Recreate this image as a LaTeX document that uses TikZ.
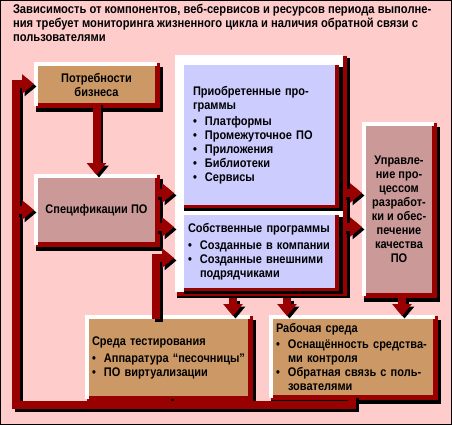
\documentclass[tikz,border=0pt]{standalone}
\usepackage{fontspec}
\setmainfont{Liberation Sans}[FakeStretch=0.88]
\usetikzlibrary{arrows.meta,backgrounds}
\definecolor{bgpink}{HTML}{FFCCCC}
\definecolor{dred}{HTML}{990000}
\definecolor{tanbox}{HTML}{CC9966}
\definecolor{rosebox}{HTML}{CC9999}
\definecolor{lavbox}{HTML}{CCCCFF}
\newcommand\bulit{\makebox[12pt][l]{\textbullet}}
\newcommand\lbltext{\bfseries\fontsize{12.5}{14}\selectfont}
\newcommand\boxdeco[1]{%
 \begin{scope}[on background layer]
  \fill[black] ([shift={(-2,1)}]#1.north west) rectangle ([shift={(8,9)}]#1.south east);
  \fill[dred] ([shift={(-2,-3)}]#1.north west) rectangle ([shift={(5,5)}]#1.south east);
  \fill[white] ([shift={(-4,-4)}]#1.north west) rectangle ([shift={(2,0)}]#1.north east);
  \fill[white] ([shift={(-4,-4)}]#1.north west) rectangle ([shift={(0,3)}]#1.south west);
 \end{scope}}
\newcommand\innerdeco[1]{%
 \begin{scope}[on background layer]
  \fill[black] ([shift={(0,2)}]#1.north west) rectangle ([shift={(8,6)}]#1.south east);
  \fill[dred] (#1.north west) rectangle ([shift={(4,3)}]#1.south east);
 \end{scope}}
\tikzset{
  every node/.style={inner sep=0pt, outer sep=0pt, font=\lbltext},
  boxc/.style={anchor=north west, align=center},
  boxl/.style={anchor=north west, align=left, inner xsep=#1},
  connbase/.style={line width=8pt},
  tipped/.style={-{Triangle[length=12pt,width=19pt]}},
}
% connector: shadow copy first, then the red line
\newcommand\conn[2][]{%
  \draw[connbase, draw=black, #1, transform canvas={xshift=2.5pt,yshift=-2.5pt}] #2;
  \draw[connbase, draw=dred, #1] #2;}
\begin{document}
\begin{tikzpicture}[x=1pt,y=-1pt]
\useasboundingbox (0,0) rectangle (452,425);
\begin{scope}[on background layer]
  \draw[black, line width=1pt, fill=bgpink] (0.5,0.5) rectangle (451.5,424.5);
\end{scope}

% title
\node[anchor=north west, align=left, font=\bfseries\fontsize{12.7}{14}\selectfont] (title) at (13,4)
  {Зависимость от компонентов, веб-сервисов и ресурсов периода выполне-\\
   ния требует мониторинга жизненного цикла и наличия обратной связи с\\
   пользователями};

% boxes
\node[boxc, fill=tanbox, minimum width=117, minimum height=37] (A) at (38,66)
  {Потребности\\бизнеса};
\boxdeco{A}
\node[boxc, fill=rosebox, minimum width=117, minimum height=64] (B) at (38,178)
  {Спецификации ПО};
\boxdeco{B}

\node[anchor=north west, minimum width=168, minimum height=237] (cont) at (175,55) {};
\begin{scope}[on background layer]
  \fill[black] ([shift={(2,3)}]cont.north west) rectangle ([shift={(7,6)}]cont.south east);
  \fill[dred] ([shift={(2,1)}]cont.north west) rectangle ([shift={(4,4)}]cont.south east);
  \fill[white] (cont.north west) rectangle (cont.south east);
\end{scope}

\node[boxl=9pt, fill=lavbox, text width=133, minimum height=140] (P) at (184,65)
  {Приобретенные про-\\граммы\\[2pt]
   \bulit Платформы\\
   \bulit Промежуточное ПО\\
   \bulit Приложения\\
   \bulit Библиотеки\\
   \bulit Сервисы};
\innerdeco{P}
\node[boxl=4pt, fill=lavbox, text width=143, minimum height=73] (S) at (184,215)
  {Собственные программы\\[3pt]
   \bulit Созданные в компании\\
   \bulit Созданные внешними\\
   \hspace*{12pt}подрядчиками};
\innerdeco{S}

\node[boxc, fill=rosebox, minimum width=66, minimum height=167] (D) at (366,126)
  {Управле-\\ние про-\\цессом\\разработ-\\ки и обес-\\печение\\качества\\ПО};
\boxdeco{D}

\node[boxl=3pt, fill=tanbox, text width=153, minimum height=77] (E) at (89,319)
  {Среда тестирования\\[3pt]
   \bulit Аппаратура “песочницы”\\
   \bulit ПО виртуализации};
\boxdeco{E}
\node[boxl=3pt, fill=tanbox, text width=154, minimum height=76] (F) at (273,319)
  {Рабочая среда\\[2pt]
   \bulit Оснащённость средства-\\
   \hspace*{12pt}ми контроля\\
   \bulit Обратная связь с поль-\\
   \hspace*{12pt}зователями};
\boxdeco{F}

% helper coordinates
\coordinate (fbR) at (352,405);
\coordinate (fbL) at (16,405);
\coordinate (fbT) at (16,84);
\coordinate (tk) at (167,405);
\coordinate (tb) at (156,258);
\coordinate (r1) at (0,193);
\coordinate (r2) at (0,227);
\coordinate (d1) at (233,0);
\coordinate (d2) at (287,0);
\coordinate (d3) at (402,0);

% connectors
\conn{(E.south -| tk) -- (tk)}
\conn[tipped, shorten >=4pt]{(F.south -| fbR) -- (fbR) -- (fbL) -- (fbT) -- (A.west |- fbT)}
\conn[tipped, shorten >=4pt]{(fbL |- B.west) -- (B.west)}
\conn[tipped, shorten >=3pt]{(A.south) -- (B.north)}
\conn[tipped, shorten >=1pt]{(B.east |- r1) -- (cont.west |- r1)}
\conn[tipped, shorten >=1pt]{(B.east |- r2) -- (cont.west |- r2)}
\conn[tipped, shorten >=1pt]{(E.north -| tb) -- (tb) -- (tb -| cont.west)}
\conn[tipped, shorten >=4pt]{(cont.east |- r1) -- (D.west |- r1)}
\conn[tipped, shorten >=4pt]{(cont.east |- r2) -- (D.west |- r2)}
\conn[tipped, shorten >=3pt]{([yshift=-6pt]cont.south -| d1) -- (E.north -| d1)}
\conn[tipped, shorten >=3pt]{([yshift=-6pt]cont.south -| d2) -- (F.north -| d2)}
\conn[tipped, shorten >=3pt]{([yshift=-5pt]D.south -| d3) -- (F.north -| d3)}
\end{tikzpicture}
\end{document}
